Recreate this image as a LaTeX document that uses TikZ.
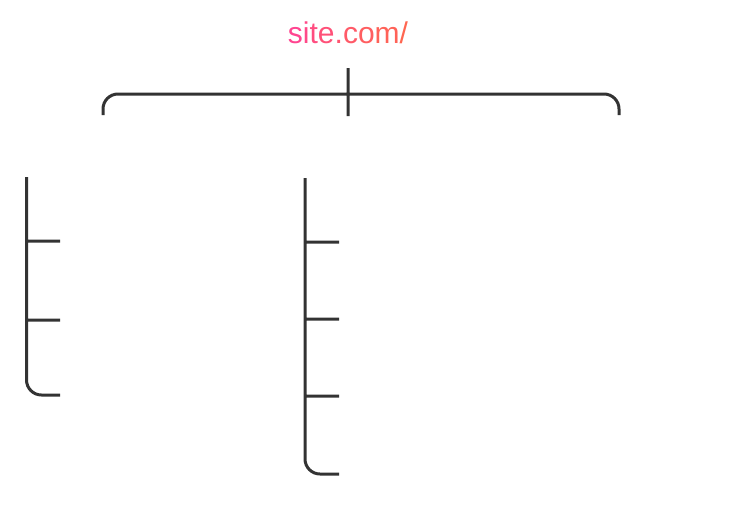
\documentclass[tikz,border=0pt]{standalone}
\usepackage{fontspec}
\setmainfont{Liberation Sans}
\usetikzlibrary{positioning}
\definecolor{linegray}{HTML}{333333}
\definecolor{rootpink}{HTML}{FF4590}
\definecolor{rootcoral}{HTML}{FF6650}
% letters of the root label, shaded from pink to coral
\newcommand{\gradtext}{%
{\color{rootpink}s}{\color{rootcoral!12!rootpink}i}{\color{rootcoral!25!rootpink}t}%
{\color{rootcoral!37!rootpink}e}{\color{rootcoral!50!rootpink}.}{\color{rootcoral!62!rootpink}c}%
{\color{rootcoral!75!rootpink}o}{\color{rootcoral!87!rootpink}m}{\color{rootcoral}/}}
\begin{document}
\begin{tikzpicture}[x=1pt,y=-1pt,line width=3pt,
branchline/.style={draw=linegray,rounded corners=15pt}]
\useasboundingbox (0,0) rectangle (743,504);
\node[anchor=base,inner sep=0pt,font=\fontsize{30}{36}\selectfont] (root) at (348,43) {\gradtext};
% top bracket
\coordinate (stemtop) at (348,68);
\coordinate (stembot) at (348,116);
\coordinate (lefttop) at (103,115);
\coordinate (righttop) at (619,115);
\draw[branchline] (lefttop) |- (stembot |- 0,94) -| (righttop)
  (stemtop) -- (stembot);
% left column
\coordinate (colA) at (26.5,177);
\coordinate (colAend) at (60,395);
\draw[branchline] (colA) |- (colAend)
  (26.5,241) -- (60,241) (26.5,320) -- (60,320);
% right column
\coordinate (colB) at (305,178);
\coordinate (colBend) at (339,474);
\draw[branchline] (colB) |- (colBend)
  (305,242) -- (339,242) (305,319) -- (339,319) (305,396) -- (339,396);
\end{tikzpicture}
\end{document}
